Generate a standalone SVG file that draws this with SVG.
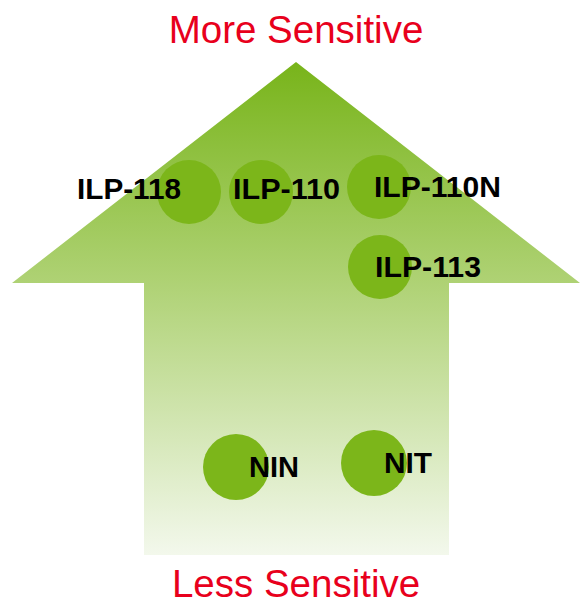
<svg xmlns="http://www.w3.org/2000/svg" width="581" height="604" viewBox="0 0 581 604">
<defs>
<linearGradient id="g" x1="0" y1="62" x2="0" y2="555" gradientUnits="userSpaceOnUse">
<stop offset="0" stop-color="#78b41a"/>
<stop offset="0.45" stop-color="#afd275"/>
<stop offset="1" stop-color="#f3f8ec"/>
</linearGradient>
<style>
.c{fill:#7cb61a}
.t{font-family:"Liberation Sans",Arial,sans-serif;font-weight:bold;font-size:30px;fill:#000}
.h{font-family:"Liberation Sans",Arial,sans-serif;font-size:38.5px;fill:#e8001c;text-anchor:middle}
</style>
</defs>
<rect width="581" height="604" fill="#fff"/>
<g id="arrow">
<polygon points="296,62 580,283 449,283 449,555 144,555 144,283 12,283" fill="url(#g)"/>
</g>
<text class="h" x="296" y="43">More Sensitive</text>
<text class="h" x="296" y="597">Less Sensitive</text>
<g id="ilp118"><circle class="c" cx="189" cy="192" r="32"/><text class="t" x="77" y="199" textLength="104" lengthAdjust="spacingAndGlyphs">ILP-118</text></g>
<g id="ilp110"><circle class="c" cx="261" cy="192" r="32"/><text class="t" x="233" y="199" textLength="107" lengthAdjust="spacingAndGlyphs">ILP-110</text></g>
<g id="ilp110n"><circle class="c" cx="379" cy="187" r="32"/><text class="t" x="374" y="197" textLength="127" lengthAdjust="spacingAndGlyphs">ILP-110N</text></g>
<g id="ilp113"><circle class="c" cx="380" cy="267" r="32"/><text class="t" x="375" y="277" textLength="106" lengthAdjust="spacingAndGlyphs">ILP-113</text></g>
<g id="nin"><circle class="c" cx="236" cy="467" r="33"/><text class="t" x="249" y="477" textLength="50" lengthAdjust="spacingAndGlyphs">NIN</text></g>
<g id="nit"><circle class="c" cx="374" cy="463" r="33"/><text class="t" x="384" y="473" textLength="48" lengthAdjust="spacingAndGlyphs">NIT</text></g>
<g id="connectors"/>
</svg>
